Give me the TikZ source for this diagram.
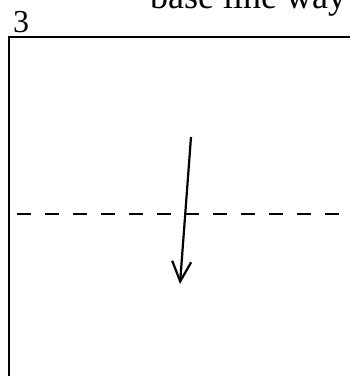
\documentclass[tikz,border=0pt]{standalone}
\usepackage{fontspec}
\setmainfont{Liberation Serif}
\usetikzlibrary{arrows.meta}

\begin{document}
\begin{tikzpicture}[
  x=1pt, y=-1pt,
  frame/.style={draw, line width=2.6pt},
  foldline/.style={draw, line width=2.6pt, dash pattern=on 14pt off 14pt},
  foldarrow/.style={draw, line width=2.2pt, -{Straight Barb[length=20pt, width=19pt, line width=2.2pt]}},
]
  \useasboundingbox (0,0) rectangle (350,376);
  \clip (0,0) rectangle (350,376);

  % Caption (cut off at the top)
  \node[font=\fontsize{36}{40}\selectfont, anchor=base west, inner sep=0pt] (caption) at (150,8) {base line way};

  % Step number
  \node[font=\fontsize{32}{36}\selectfont, anchor=base west, inner sep=0pt] (stepno) at (13,32) {3};

  % Paper
  \draw[frame] (9,380) -- (9,37) -- (360,37);

  % Valley fold
  \coordinate (fold left) at (17,214);
  \coordinate (fold right) at (356,214);
  \draw[foldline] (fold left) -- (fold right);

  % Direction of fold
  \coordinate (move start) at (191,137);
  \coordinate (move end) at (180,284);
  \draw[foldarrow] (move start) -- (move end);
\end{tikzpicture}
\end{document}
